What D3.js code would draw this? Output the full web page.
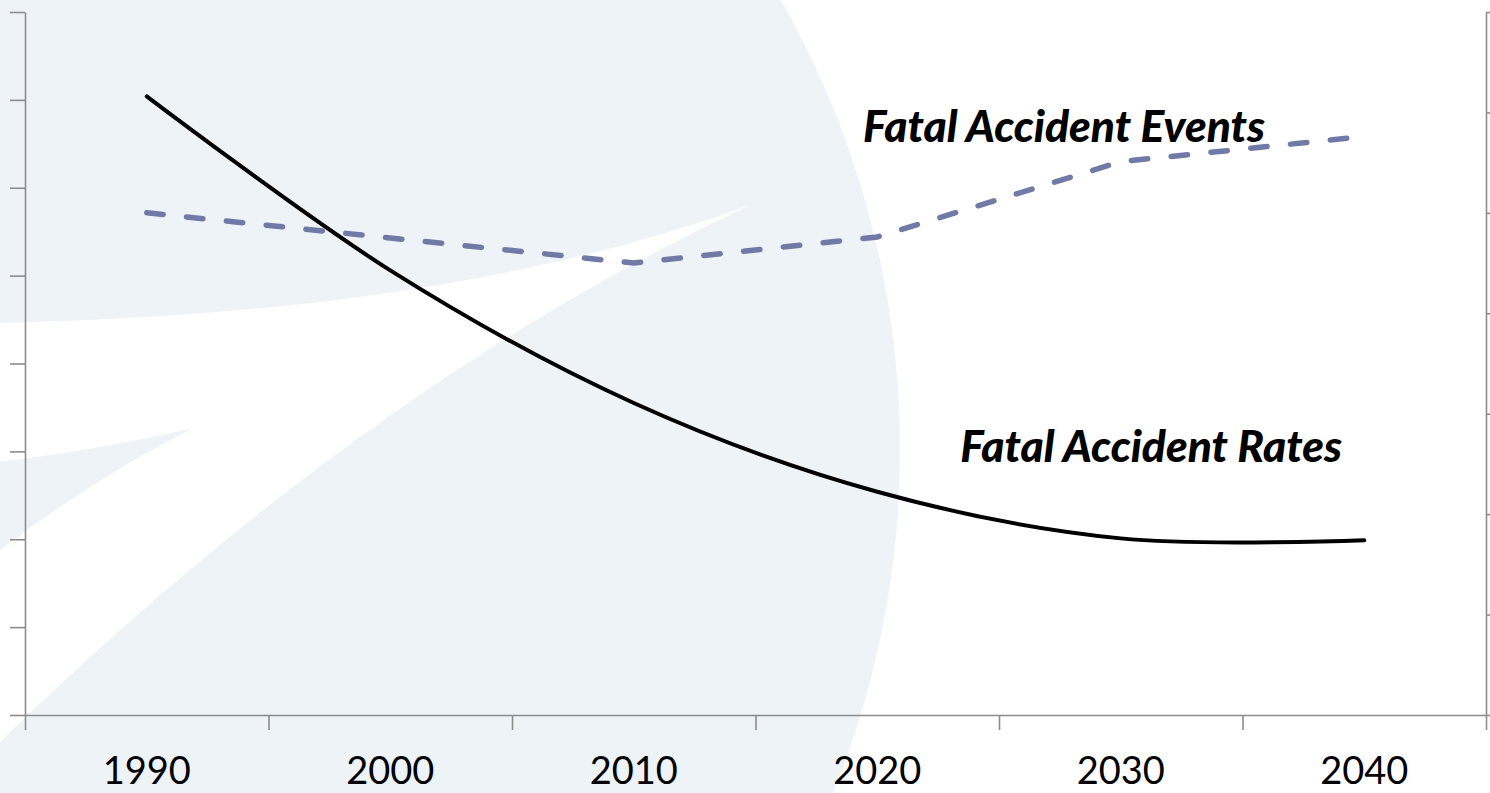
<!DOCTYPE html>
<html>
<head>
<meta charset="utf-8">
<script src="https://cdn.jsdelivr.net/npm/d3@7"></script>
<style>
  body { margin: 0; background: #fff; }
  .axis path, .axis line { stroke: #8c8c8c; stroke-width: 1.6px; }
  .axis text { font-family: Lato, "Open Sans", sans-serif; fill: #000; }
  .label { font-family: Lato, "Open Sans", sans-serif; font-weight: 900; font-style: italic; fill: #000; }
</style>
</head>
<body>
<svg id="chart" width="1490" height="793"></svg>
<script>
// data
const years = ["1990", "2000", "2010", "2020", "2030", "2040"];
const rates = [7.04, 5.06, 3.55, 2.54, 2.01, 1.99];   // left scale, solid black
const events = [5.0, 4.75, 4.5, 4.76, 5.51, 5.76];  // right scale, dashed
const leftTicks = [0, 1, 2, 3, 4, 5, 6, 7, 8];
const rightTicks = [0, 1, 2, 3, 4, 5, 6, 7];

const svg = d3.select("#chart");
const width = +svg.attr("width");
const height = +svg.attr("height");
const margin = { top: 12, right: 4, bottom: 78, left: 25 };
const logoFill = "#eef3f8";

// watermark logo in the background
const logo = svg.append("g").attr("class", "logo");
logo.append("circle").attr("cx", -8).attr("cy", 450).attr("r", 908).attr("fill", logoFill);
logo.append("path")
    .attr("d", "M-10,323 Q450,315 750,205 Q365,386 0,742 L-10,745 Z")
    .attr("fill", "#fff");
logo.append("path")
    .attr("d", "M-10,463 Q100,450 193,428 Q90,480 -10,558 Z")
    .attr("fill", logoFill);

const x = d3.scaleBand().domain(years).range([margin.left, width - margin.right]);
const xEdge = d3.scaleLinear().domain([0, years.length]).range([margin.left, width - margin.right]);
const yL = d3.scaleLinear().domain([0, d3.max(leftTicks)]).range([height - margin.bottom, margin.top]);
const yR = d3.scaleLinear().domain([0, d3.max(rightTicks)]).range([height - margin.bottom, margin.top]);
const cx = d => x(d) + x.bandwidth() / 2;

// axes
svg.append("g").attr("class", "axis")
    .attr("transform", `translate(${margin.left},0)`)
    .call(d3.axisLeft(yL).tickValues(leftTicks).tickSize(15).tickSizeOuter(0).tickFormat(""));

svg.append("g").attr("class", "axis")
    .attr("transform", `translate(${width - margin.right},0)`)
    .call(d3.axisRight(yR).tickValues(rightTicks).tickSize(15).tickSizeOuter(0).tickFormat(""));

svg.append("g").attr("class", "axis")
    .attr("transform", `translate(0,${height - margin.bottom})`)
    .call(d3.axisBottom(xEdge).tickValues(d3.range(years.length + 1)).tickSize(15).tickSizeOuter(0).tickFormat(""));

const labels = svg.append("g").attr("class", "axis")
    .attr("transform", `translate(0,${height - margin.bottom})`)
    .call(d3.axisBottom(x).tickSize(0));
labels.select(".domain").remove();
labels.selectAll("text")
    .attr("font-size", 38)
    .attr("y", 69)
    .attr("dy", null);

// lines
const rateLine = d3.line()
    .x((d, i) => cx(years[i]))
    .y(d => yL(d))
    .curve(d3.curveCardinal.tension(0));

const eventLine = d3.line()
    .x((d, i) => cx(years[i]))
    .y(d => yR(d));

svg.append("path")
    .datum(events)
    .attr("fill", "none")
    .attr("stroke", "#717aa6")
    .attr("stroke-width", 5.5)
    .attr("stroke-linecap", "round")
    .attr("stroke-dasharray", "16.5 23.5")
    .attr("d", eventLine);

svg.append("path")
    .datum(rates)
    .attr("fill", "none")
    .attr("stroke", "#000")
    .attr("stroke-width", 4)
    .attr("stroke-linecap", "round")
    .attr("d", rateLine);

// series labels, sized to fit the widths seen in the original
function addLabel(text, xEnd, baseline, targetWidth) {
    const t = svg.append("text")
        .attr("class", "label")
        .attr("text-anchor", "end")
        .attr("x", xEnd)
        .attr("y", baseline)
        .attr("font-size", 36)
        .text(text);
    const w = t.node().getComputedTextLength();
    t.attr("font-size", 36 * targetWidth / w);
}

addLabel("Fatal Accident Events", 1265, 142, 402);
addLabel("Fatal Accident Rates", 1342, 462, 382);
</script>
</body>
</html>
